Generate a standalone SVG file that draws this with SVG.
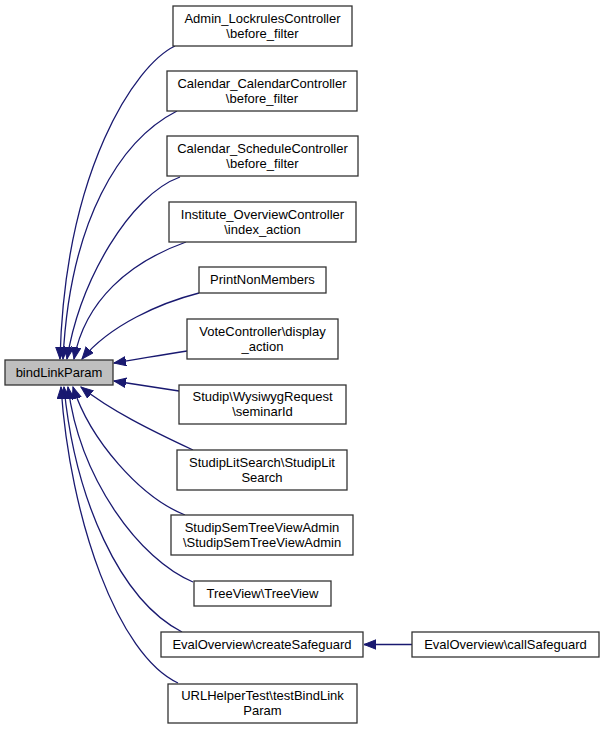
<svg xmlns="http://www.w3.org/2000/svg" width="604" height="729" viewBox="0 0 604 729">
<style>
.nb{fill:#ffffff;stroke:#333333;stroke-width:1.3}
.nh{fill:#bfbfbf;stroke:#333333;stroke-width:1.3}
.t{font-family:"Liberation Sans",Arial,Helvetica,sans-serif;font-size:13px;fill:#000000;text-anchor:middle}
.e{fill:none;stroke:#191970;stroke-width:1.3;marker-end:url(#ah)}
</style>
<defs>
<marker id="ah" markerUnits="userSpaceOnUse" markerWidth="14" markerHeight="12" refX="12" refY="5" orient="auto">
<path d="M0,0.3 L12,5 L0,9.7 z" fill="#191970" stroke="#191970" stroke-width="1"/>
</marker>
</defs>
<rect width="604" height="729" fill="#ffffff"/>
<g id="connectors">
<path class="e" d="M175,46 C135,65 65,170 60,359"/>
<path class="e" d="M177,111 C120,140 70,220 63,359"/>
<path class="e" d="M180,177 C130,195 80,280 67,359"/>
<path class="e" d="M186,242 C130,262 85,300 74,359"/>
<path class="e" d="M199,293 C160,303 110,325 82,359"/>
<path class="e" d="M187,351 C160,355 140,359 114,363"/>
<path class="e" d="M179,391 L114,381"/>
<path class="e" d="M193,450 C150,430 110,410 81,387"/>
<path class="e" d="M185,515 C140,497 90,440 73,387"/>
<path class="e" d="M193,582 C140,560 80,480 68,387"/>
<path class="e" d="M182,632 C120,600 75,500 64,387"/>
<path class="e" d="M178,683 C118,655 70,520 61,387"/>
<path class="e" d="M412,644.5 L364,644.5"/>
</g>
<g id="bindLinkParam">
<rect class="nh" x="5" y="360" width="108" height="25"/>
<text class="t" x="59" y="377">bindLinkParam</text>
</g>
<g id="admin_lockrules">
<rect class="nb" x="173" y="6" width="179" height="40"/>
<text class="t" x="262.5" y="22.5">Admin_LockrulesController</text>
<text class="t" x="262.5" y="37.5">\before_filter</text>
</g>
<g id="calendar_calendar">
<rect class="nb" x="167" y="71" width="190" height="40"/>
<text class="t" x="262" y="87.5">Calendar_CalendarController</text>
<text class="t" x="262" y="102.5">\before_filter</text>
</g>
<g id="calendar_schedule">
<rect class="nb" x="167" y="136" width="191" height="40"/>
<text class="t" x="262.5" y="152.5">Calendar_ScheduleController</text>
<text class="t" x="262.5" y="167.5">\before_filter</text>
</g>
<g id="institute_overview">
<rect class="nb" x="169" y="202" width="187" height="40"/>
<text class="t" x="262.5" y="218.5">Institute_OverviewController</text>
<text class="t" x="262.5" y="233.5">\index_action</text>
</g>
<g id="printnonmembers">
<rect class="nb" x="199" y="267" width="127" height="26"/>
<text class="t" x="262.5" y="284">PrintNonMembers</text>
</g>
<g id="votecontroller">
<rect class="nb" x="187" y="319" width="151" height="40"/>
<text class="t" x="262.5" y="335.5">VoteController\display</text>
<text class="t" x="262.5" y="350.5">_action</text>
</g>
<g id="wysiwyg">
<rect class="nb" x="179" y="385" width="167" height="39"/>
<text class="t" x="262.5" y="401">Studip\WysiwygRequest</text>
<text class="t" x="262.5" y="416">\seminarId</text>
</g>
<g id="studiplitsearch">
<rect class="nb" x="177" y="450" width="170" height="40"/>
<text class="t" x="262" y="466.5">StudipLitSearch\StudipLit</text>
<text class="t" x="262" y="481.5">Search</text>
</g>
<g id="studipsemtree">
<rect class="nb" x="171" y="515" width="182" height="40"/>
<text class="t" x="262" y="531.5">StudipSemTreeViewAdmin</text>
<text class="t" x="262" y="546.5">\StudipSemTreeViewAdmin</text>
</g>
<g id="treeview">
<rect class="nb" x="194" y="581" width="137" height="25"/>
<text class="t" x="262.5" y="598">TreeView\TreeView</text>
</g>
<g id="createsafeguard">
<rect class="nb" x="161" y="632" width="202" height="25"/>
<text class="t" x="262" y="649">EvalOverview\createSafeguard</text>
</g>
<g id="urlhelpertest">
<rect class="nb" x="168" y="684" width="189" height="39"/>
<text class="t" x="262.5" y="700">URLHelperTest\testBindLink</text>
<text class="t" x="262.5" y="715">Param</text>
</g>
<g id="callsafeguard">
<rect class="nb" x="412" y="632" width="187" height="25"/>
<text class="t" x="505.5" y="649">EvalOverview\callSafeguard</text>
</g>
</svg>
